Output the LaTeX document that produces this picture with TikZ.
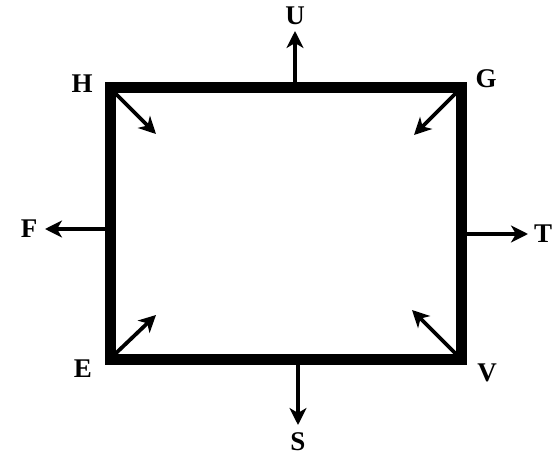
\documentclass[tikz,border=0pt]{standalone}
\usepackage{fontspec}
\setmainfont{Liberation Serif}
\usetikzlibrary{arrows.meta}
\begin{document}
\begin{tikzpicture}[x=1pt,y=-1pt,
  frame/.style={line width=11pt,line join=miter,line cap=rect},
  arr/.style={line width=3.8pt,-{Stealth[length=17pt,width=17pt,inset=5pt]}},
  lbl/.style={font=\bfseries\fontsize{27}{27}\selectfont,inner sep=0pt}]
\useasboundingbox (0,0) rectangle (556,462);
\fill[white] (0,0) rectangle (556,462);
% corners
\coordinate (h) at (110,88);
\coordinate (g) at (461,88);
\coordinate (e) at (110,359);
\coordinate (v) at (461,359);
\draw[frame] (h) -- (g) -- (v) -- (e) -- cycle;
% labels
\node[lbl] (H) at (82,84) {H};
\node[lbl] (G) at (486,79) {G};
\node[lbl] (E) at (83,369) {E};
\node[lbl] (V) at (487,373) {V};
\node[lbl] (U) at (295,16) {U};
\node[lbl] (S) at (298,442) {S};
\node[lbl] (F) at (29,229) {F};
\node[lbl] (T) at (543,234) {T};
% arrow endpoints
\coordinate (us) at (295,88);
\coordinate (ue) at (295,31);
\coordinate (ss) at (298,359);
\coordinate (se) at (298,425);
\coordinate (fs) at (110,229);
\coordinate (fe) at (45,229);
\coordinate (ts) at (461,234);
\coordinate (te) at (528,234);
\coordinate (hs) at (113,91);
\coordinate (he) at (156,134);
\coordinate (gs) at (458,91);
\coordinate (ge) at (414,135);
\coordinate (es) at (113,356);
\coordinate (ee) at (156,315);
\coordinate (vs) at (458,356);
\coordinate (ve) at (412,310);
\draw[arr] (us) -- (ue);
\draw[arr] (ss) -- (se);
\draw[arr] (fs) -- (fe);
\draw[arr] (ts) -- (te);
\draw[arr] (hs) -- (he);
\draw[arr] (gs) -- (ge);
\draw[arr] (es) -- (ee);
\draw[arr] (vs) -- (ve);
\end{tikzpicture}
\end{document}
